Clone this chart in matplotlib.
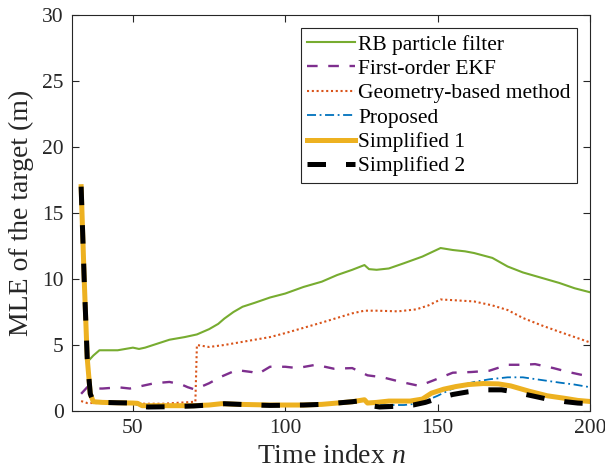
import matplotlib
matplotlib.use('Agg')
import matplotlib.pyplot as plt

# MLE of the target vs time index

N_RB = [33, 34, 35, 37, 39, 45, 50, 52, 54, 58, 62, 67, 71, 75, 78, 80, 83, 86, 90,
        95, 100, 106, 112, 117, 122, 126, 127.5, 130, 134, 139, 145, 151, 155, 159,
        162, 168, 173, 178, 184, 190, 195, 200]
MLE_RB = [16.0, 9.0, 3.7, 4.2, 4.6, 4.6, 4.8, 4.7, 4.8, 5.1, 5.4, 5.6, 5.8, 6.2, 6.6,
          7.0, 7.5, 7.9, 8.2, 8.6, 8.9, 9.4, 9.8, 10.3, 10.7, 11.06, 10.75, 10.7, 10.8,
          11.2, 11.7, 12.35, 12.2, 12.1, 11.97, 11.6, 10.95, 10.5, 10.1, 9.7, 9.3, 9.0]

N_EKF = [33, 35, 37, 40, 43, 45, 49, 53, 57, 62, 66, 68, 70, 72, 75, 79, 84, 89, 91,
         95, 100, 104, 110, 116, 122, 127, 132, 138, 144, 149, 155, 161, 167, 173, 178,
         182, 188, 193, 198, 200]
MLE_EKF = [1.3, 1.8, 1.7, 1.7, 1.75, 1.8, 1.7, 1.9, 2.1, 2.2, 2.0, 1.8, 1.65, 1.8, 2.1,
           2.6, 3.1, 2.95, 2.8, 3.35, 3.35, 3.25, 3.5, 3.2, 3.25, 2.7, 2.55, 2.2, 1.9,
           2.35, 2.9, 2.95, 3.05, 3.5, 3.5, 3.55, 3.25, 2.95, 2.7, 2.9]

N_GEO = [33, 35, 40, 50, 52, 60, 70.5, 71, 75, 80, 85, 90, 95, 100, 106, 112, 117, 122,
         126, 130, 137, 143, 147, 151, 155, 162, 168, 173, 178, 184, 190, 195, 200]
MLE_GEO = [0.75, 0.6, 0.6, 0.6, 0.55, 0.55, 0.7, 5.0, 4.85, 5.0, 5.2, 5.4, 5.6, 5.9, 6.3,
           6.7, 7.05, 7.4, 7.6, 7.6, 7.55, 7.7, 8.0, 8.45, 8.4, 8.3, 8.0, 7.65, 7.05, 6.5,
           6.0, 5.6, 5.2]

N_PROP = [33, 34, 35, 36, 37, 40, 50, 52, 60, 70, 80, 95, 110, 117, 122, 126, 128, 132,
          139, 143, 146, 150, 154, 158, 162, 167, 173, 178, 184, 190, 195, 200]
MLE_PROP = [17.1, 10.0, 4.0, 1.3, 0.7, 0.65, 0.6, 0.4, 0.4, 0.42, 0.5, 0.45, 0.48, 0.6,
            0.7, 0.8, 0.55, 0.45, 0.45, 0.55, 0.75, 1.15, 1.6, 1.95, 2.2, 2.4, 2.55, 2.55,
            2.35, 2.15, 2.0, 1.8]

N_S1 = [33, 34, 35, 36, 37, 40, 45, 50, 51.5, 53, 60, 70, 75, 79, 85, 95, 106, 112, 117,
        122, 126, 127, 130, 134, 141, 145, 148, 152, 156, 160, 165, 170, 174, 180, 186,
        192, 196, 200]
MLE_S1 = [17.0, 10.0, 4.0, 1.3, 0.7, 0.65, 0.62, 0.6, 0.58, 0.4, 0.4, 0.4, 0.45, 0.55,
          0.5, 0.45, 0.45, 0.5, 0.6, 0.7, 0.85, 0.6, 0.65, 0.75, 0.75, 0.9, 1.35, 1.65,
          1.85, 2.0, 2.08, 2.05, 1.9, 1.5, 1.15, 0.95, 0.8, 0.72]

N_S2 = [33, 34, 35, 36, 37, 40, 45, 50, 52, 55, 62, 70, 75, 80, 85, 90, 95, 106, 112,
        117, 122, 126, 128, 131, 136, 142, 146, 150, 155, 160, 165, 171, 175, 180, 186,
        192, 196, 200]
MLE_S2 = [17.0, 10.0, 4.0, 1.3, 0.7, 0.65, 0.62, 0.6, 0.35, 0.3, 0.32, 0.38, 0.45, 0.55,
          0.5, 0.45, 0.42, 0.45, 0.5, 0.6, 0.7, 0.8, 0.4, 0.3, 0.35, 0.45, 0.65, 0.95,
          1.25, 1.45, 1.6, 1.6, 1.45, 1.2, 0.9, 0.7, 0.6, 0.55]

LABELS = ["RB particle filter", "First-order EKF", "Geometry-based method",
          "Proposed", "Simplified 1", "Simplified 2"]

plt.rcParams['font.family'] = ['Liberation Serif', 'DejaVu Serif']
plt.rcParams['mathtext.fontset'] = 'custom'
plt.rcParams['mathtext.rm'] = 'Liberation Serif'
plt.rcParams['mathtext.it'] = 'Liberation Serif:italic'

AX_COL = "#262626"

fig = plt.figure(figsize=(6.05, 4.74), dpi=100)
ax = fig.add_axes([0.119, 0.133, 0.856, 0.835])

ax.plot(N_RB, MLE_RB, '-', color="#77AC30", lw=1.5, label=LABELS[0])
ax.plot(N_EKF, MLE_EKF, '--', color="#7E2F8E", lw=1.7, dashes=(4.5, 4.5), label=LABELS[1])
ax.plot(N_GEO, MLE_GEO, ':', color="#D95319", lw=1.5, dashes=(1, 1.3), label=LABELS[2])
ax.plot(N_PROP, MLE_PROP, '-.', color="#0072BD", lw=1.3, dashes=(5, 2, 1, 2), label=LABELS[3])
ax.plot(N_S1, MLE_S1, '-', color="#EDB120", lw=3.6, label=LABELS[4])
ax.plot(N_S2, MLE_S2, '--', color="black", lw=3.6, dashes=(3.7, 4.0), label=LABELS[5])

ax.set_xlim(30, 200)
ax.set_ylim(0, 30)
ax.set_xticks([50, 100, 150, 200])
ax.set_yticks(range(0, 31, 5))

for s in ax.spines.values():
    s.set_color(AX_COL)
    s.set_linewidth(0.8)
ax.tick_params(direction='in', top=True, right=True, length=5, width=0.8,
               color=AX_COL, labelcolor=AX_COL, labelsize=15.5, pad=6)

ax.set_xlabel("Time index $n$", fontsize=20, color=AX_COL, labelpad=4)
ax.set_ylabel("MLE of the target (m)", fontsize=20, color=AX_COL, labelpad=6)

leg = ax.legend(loc='upper right', fontsize=15.5, handlelength=2.2, handletextpad=0.15,
                labelspacing=0.2, borderaxespad=0.6, borderpad=0.3, fancybox=False,
                framealpha=1.0, edgecolor=AX_COL)
leg.get_frame().set_linewidth(0.8)

fig.savefig("out.png", dpi=100)
plt.close()
